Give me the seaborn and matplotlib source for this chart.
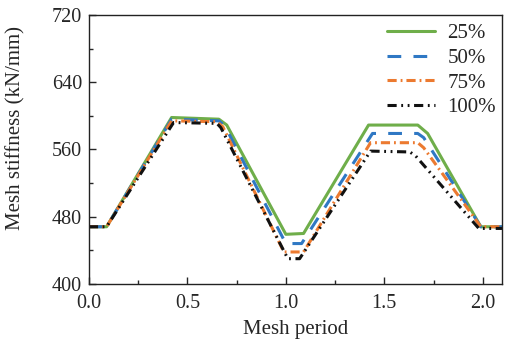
import pandas as pd
import matplotlib.pyplot as plt
import seaborn as sns
from matplotlib.ticker import MultipleLocator

# values
x_25 = [0.0, 0.09, 0.42, 0.66, 0.70, 1.00, 1.09, 1.42, 1.67, 1.72, 1.99, 2.10]
y_25 = [468, 468, 598, 596, 589, 459, 460, 589, 589, 579, 468, 468]

x_50 = [0.0, 0.09, 0.42, 0.66, 0.69, 1.00, 1.08, 1.44, 1.67, 1.70, 1.99, 2.10]
y_50 = [468, 468, 596, 594, 588, 448, 448, 579, 579, 574, 468, 468]

x_75 = [0.0, 0.09, 0.42, 0.65, 0.68, 0.99, 1.09, 1.43, 1.67, 1.70, 1.99, 2.10]
y_75 = [468, 468, 594, 593, 587, 438, 438, 568, 568, 562, 468, 468]

x_100 = [0.0, 0.09, 0.43, 0.65, 0.67, 1.01, 1.07, 1.43, 1.63, 1.66, 1.98, 2.10]
y_100 = [468, 468, 592, 591, 586, 430, 430, 558, 557, 552, 466, 466]

labels = ['25%', '50%', '75%', '100%']
colors = ['#6fae4a', '#2f78c4', '#ec7a30', '#111111']
styles = ['-', (0, (4.5, 4)), (0, (3, 1.3, 0.6, 1.3)), (0, (3, 1.5, 0.6, 1.5, 0.6, 1.5))]

sns.set_style('ticks')
plt.rcParams['font.family'] = ['Liberation Serif', 'DejaVu Serif']

fig, ax = plt.subplots(figsize=(5.05, 3.4), dpi=100)
fig.subplots_adjust(left=0.176, right=0.995, top=0.956, bottom=0.165)

series = [(x_25, y_25), (x_50, y_50), (x_75, y_75), (x_100, y_100)]
for (xs, ys), lab, col, ls in zip(series, labels, colors, styles):
    df = pd.DataFrame({'period': xs, 'stiffness': ys})
    sns.lineplot(data=df, x='period', y='stiffness', ax=ax, color=col,
                 linestyle=ls, linewidth=2.2, label=lab, sort=False)

ax.set_xlim(0, 2.1)
ax.set_ylim(400, 720)
ax.xaxis.set_major_locator(MultipleLocator(0.5))
ax.xaxis.set_minor_locator(MultipleLocator(0.25))
ax.yaxis.set_major_locator(MultipleLocator(80))
ax.yaxis.set_minor_locator(MultipleLocator(40))
ax.xaxis.set_major_formatter(plt.FormatStrFormatter('%.1f'))
ax.tick_params(which='major', direction='in', length=5, width=1, labelsize=14.5)
ax.tick_params(which='minor', direction='in', length=3, width=1)
ax.tick_params(axis='x', which='major', pad=7)
ax.tick_params(axis='y', which='major', pad=5)
for s in ax.spines.values():
    s.set_linewidth(1.0)
    s.set_color('#222222')

ax.set_xlabel('Mesh period', fontsize=15)
ax.set_ylabel('Mesh stiffness (kN/mm)', fontsize=15)
ax.xaxis.set_label_coords(0.5, -0.135)
ax.yaxis.set_label_coords(-0.153, 0.58)

ax.legend(loc='upper right', bbox_to_anchor=(1.015, 1.015), frameon=False,
          fontsize=15, handlelength=2.3, handletextpad=0.6, labelspacing=0.25,
          borderaxespad=0.2)

plt.savefig('out.png', dpi=100)
plt.close()
